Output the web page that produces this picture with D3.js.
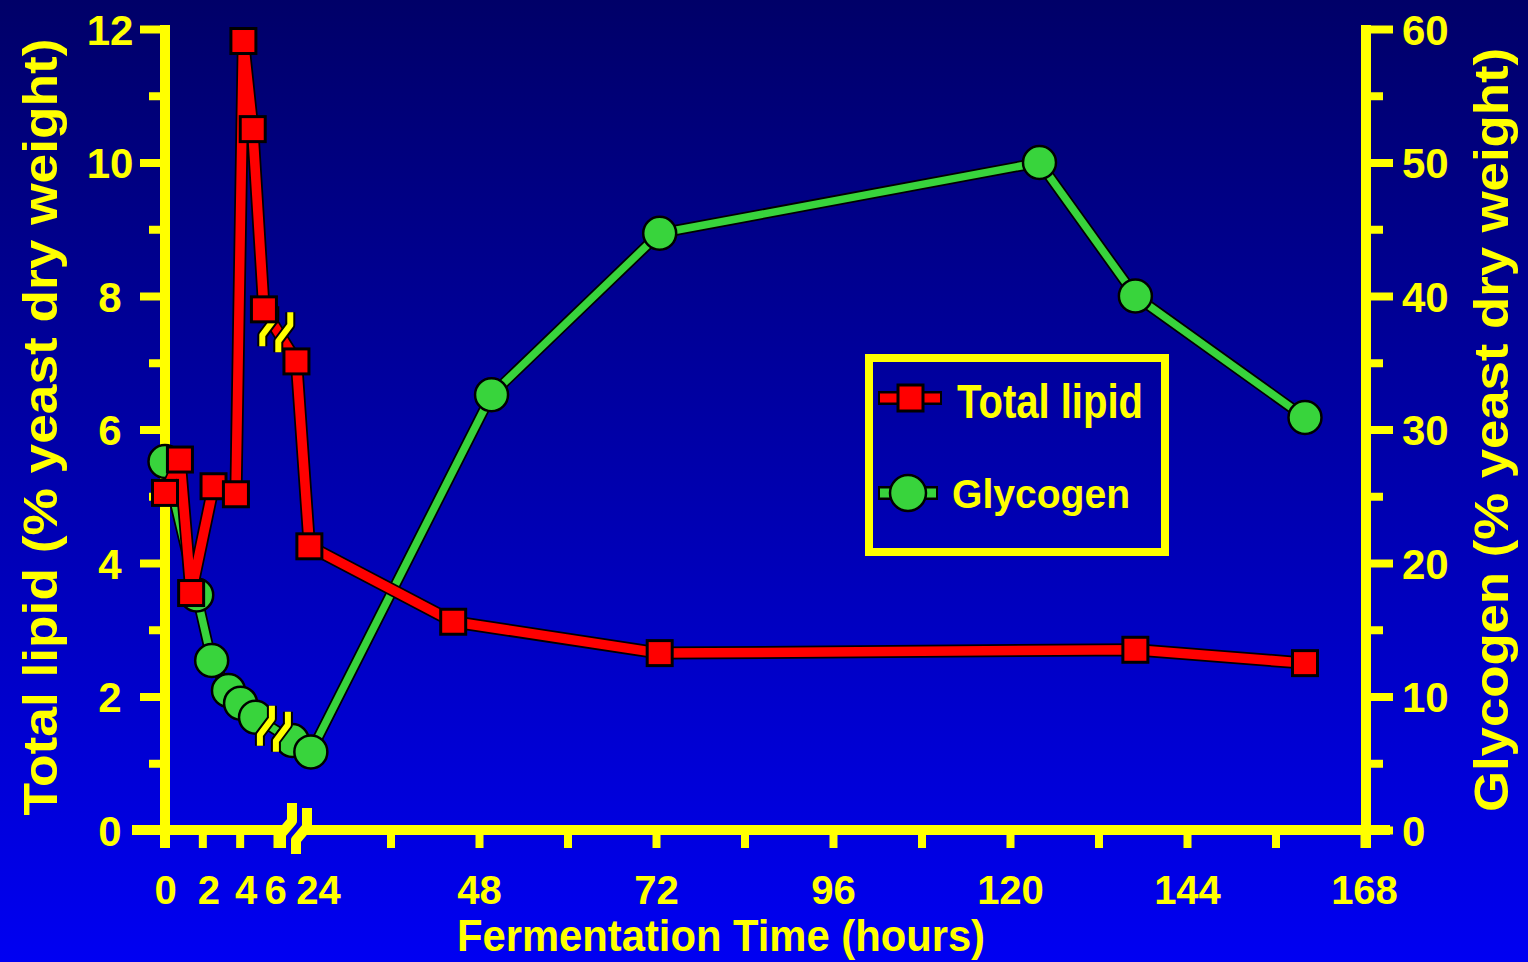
<!DOCTYPE html>
<html><head><meta charset="utf-8">
<script src="https://cdn.jsdelivr.net/npm/d3@7"></script>
<style>body{margin:0;background:#0000a0;} svg{display:block}</style>
</head><body><svg id="c" width="1528" height="962"></svg>
<script>
// ---- data ----
const lipidHours  = [0, 0.8, 1.4, 2.6, 3.8, 4.2, 4.7, 5.3, 20, 25, 44.5, 72.5, 137, 160];
const lipidValues = [5.05, 5.55, 3.55, 5.15, 5.03, 11.82, 10.5, 7.8, 7.02, 4.25, 3.12, 2.65, 2.7, 2.5];
const glycogenHours  = [0, 1.7, 2.5, 3.4, 4.05, 4.85, 17, 25.2, 49.7, 72.5, 124, 137, 160];
const glycogenValues = [27.6, 17.6, 12.7, 10.45, 9.5, 8.45, 6.7, 5.85, 32.6, 44.7, 50.0, 40.0, 30.9];
const xTickMarks  = [2, 4, 6, 36, 48, 60, 72, 84, 96, 108, 120, 132, 144, 156, 168];
const xTickLabels = [0, 2, 4, 6, 24, 48, 72, 96, 120, 144, 168];
const leftMajor  = [0, 2, 4, 6, 8, 10, 12];
const leftMinor  = [1, 3, 5, 7, 9, 11];
const rightMajor = [0, 10, 20, 30, 40, 50, 60];
const rightMinor = [5, 15, 25, 35, 45, 55];
const xTitle = "Fermentation Time (hours)";
const yLeftTitle = "Total lipid (% yeast dry weight)";
const yRightTitle = "Glycogen (% yeast dry weight)";
const seriesNames = ["Total lipid", "Glycogen"];

const YEL = "#ffff00", RED = "#ff0000", GRN = "#38d43c";
const FONT = "'Liberation Sans', Arial, sans-serif";

const svg = d3.select("#c");
const defs = svg.append("defs");
const grad = defs.append("linearGradient").attr("id","bg").attr("x1",0).attr("y1",0).attr("x2",0).attr("y2",1);
grad.append("stop").attr("offset","0%").attr("stop-color","#000068");
grad.append("stop").attr("offset","100%").attr("stop-color","#0000f2");
svg.append("rect").attr("width",1528).attr("height",962).attr("fill","url(#bg)");

// ---- scales ----
const x = d3.scaleLinear().domain([0, 6, 24, 168]).range([165, 277, 302, 1364]);
const yL = d3.scaleLinear().domain([0, 12]).range([830, 29]);
const yR = d3.scaleLinear().domain([0, 60]).range([830, 29]);

function styleAxis(g, w, fs) {
  g.select(".domain").remove();
  g.selectAll(".tick line").attr("stroke", YEL).attr("stroke-width", w);
  g.selectAll(".tick text").attr("fill", YEL).attr("font-family", FONT)
    .attr("font-weight", "bold").attr("font-size", fs || 42);
}

// left axis
const gL1 = svg.append("g").attr("transform","translate(165,0)")
  .call(d3.axisLeft(yL).tickValues(leftMajor).tickSize(25).tickFormat(d3.format("d")));
styleAxis(gL1, 8);
gL1.selectAll(".tick text").attr("x", -55).attr("text-anchor","middle").attr("dy","0.36em");
const gL2 = svg.append("g").attr("transform","translate(165,0)")
  .call(d3.axisLeft(yL).tickValues(leftMinor).tickSize(16).tickFormat(""));
styleAxis(gL2, 8);

// right axis
const gR1 = svg.append("g").attr("transform","translate(1366,0)")
  .call(d3.axisRight(yR).tickValues(rightMajor).tickSize(27).tickFormat(d3.format("d")));
styleAxis(gR1, 8);
gR1.selectAll(".tick text").attr("x", 36).attr("text-anchor","start").attr("dy","0.36em");
const gR2 = svg.append("g").attr("transform","translate(1366,0)")
  .call(d3.axisRight(yR).tickValues(rightMinor).tickSize(17).tickFormat(""));
styleAxis(gR2, 8);

// bottom axis ticks
const gB1 = svg.append("g").attr("transform","translate(0,830)")
  .call(d3.axisBottom(x).tickValues(xTickMarks).tickSize(18).tickFormat(""));
styleAxis(gB1, 8);
const labelShift = {2: 6, 4: 6, 6: -2, 24: 16};
const gB2 = svg.append("g").attr("transform","translate(0,830)")
  .call(d3.axisBottom(x).tickValues(xTickLabels).tickSize(0).tickFormat(d3.format("d")));
styleAxis(gB2, 0, 40);
gB2.selectAll(".tick text").attr("y", 74).attr("dy", "0")
  .attr("dx", d => labelShift[d] || 0);

// axis lines
const axisG = svg.append("g").attr("stroke", YEL).attr("fill","none");
axisG.append("line").attr("x1",165).attr("x2",165).attr("y1",25).attr("y2",848).attr("stroke-width",10);
axisG.append("line").attr("x1",1366).attr("x2",1366).attr("y1",25).attr("y2",848).attr("stroke-width",10);
axisG.append("line").attr("x1",132).attr("x2",284).attr("y1",830).attr("y2",830).attr("stroke-width",10);
axisG.append("line").attr("x1",304).attr("x2",1390).attr("y1",830).attr("y2",830).attr("stroke-width",10);
// axis break
axisG.append("path").attr("d","M281,848 L281,834 L292,821 L292,803").attr("stroke-width",10).attr("stroke-linejoin","round");
axisG.append("path").attr("d","M296,854 L296,840 L307,827 L307,808").attr("stroke-width",10).attr("stroke-linejoin","round");

// ---- series ----
const lipid = lipidHours.map((h,i) => ({h, v: lipidValues[i]}));
const glyc = glycogenHours.map((h,i) => ({h, v: glycogenValues[i]}));
const lineL = d3.line().x(d => x(d.h)).y(d => yL(d.v));
const lineG = d3.line().x(d => x(d.h)).y(d => yR(d.v));

function breakMarks(p0, p1, t) {
  const cx = p0[0] + (p1[0]-p0[0])*t, cy = p0[1] + (p1[1]-p0[1])*t;
  const g = svg.append("g").attr("fill","none").attr("stroke-linejoin","round");
  [[-8,-3],[8,3]].forEach(([dx,dy]) => {
    const d = `M${cx+dx-6},${cy+dy+20} L${cx+dx-6},${cy+dy+9} L${cx+dx+6},${cy+dy-7} L${cx+dx+6},${cy+dy-20}`;
    g.append("path").attr("d", d).attr("stroke","#000").attr("stroke-width",10);
    g.append("path").attr("d", d).attr("stroke",YEL).attr("stroke-width",6);
  });
}

// glycogen line + markers
svg.append("path").datum(glyc).attr("d", lineG).attr("fill","none").attr("stroke","#000").attr("stroke-width",11).attr("stroke-linejoin","round");
svg.append("path").datum(glyc).attr("d", lineG).attr("fill","none").attr("stroke",GRN).attr("stroke-width",7.5).attr("stroke-linejoin","round");
svg.append("g").selectAll("circle").data(glyc).join("circle")
  .attr("cx", d => x(d.h)).attr("cy", d => yR(d.v)).attr("r", 16.5)
  .attr("fill", GRN).attr("stroke","#000").attr("stroke-width",2.5);
breakMarks([x(glyc[5].h), yR(glyc[5].v)], [x(glyc[6].h), yR(glyc[6].v)], 0.5);

// lipid line + markers
svg.append("path").datum(lipid).attr("d", lineL).attr("fill","none").attr("stroke","#000").attr("stroke-width",13).attr("stroke-linejoin","round");
svg.append("path").datum(lipid).attr("d", lineL).attr("fill","none").attr("stroke",RED).attr("stroke-width",9.5).attr("stroke-linejoin","round");
breakMarks([x(lipid[7].h), yL(lipid[7].v)], [x(lipid[8].h), yL(lipid[8].v)], 0.38);
svg.append("g").selectAll("rect").data(lipid).join("rect")
  .attr("x", d => x(d.h) - 12.5).attr("y", d => yL(d.v) - 12.5).attr("width", 25).attr("height", 25)
  .attr("fill", RED).attr("stroke","#000").attr("stroke-width",3);

// ---- titles ----
const T = (s) => svg.append("text").text(s).attr("fill", YEL).attr("font-family", FONT).attr("font-weight","bold");
T(xTitle).attr("x", 721).attr("y", 951).attr("text-anchor","middle").attr("font-size", 44)
  .attr("textLength", 528).attr("lengthAdjust","spacingAndGlyphs");
T(yLeftTitle).attr("transform","translate(57,427) rotate(-90)").attr("text-anchor","middle").attr("font-size", 48)
  .attr("textLength", 777).attr("lengthAdjust","spacingAndGlyphs");
T(yRightTitle).attr("transform","translate(1508,430) rotate(-90)").attr("text-anchor","middle").attr("font-size", 48)
  .attr("textLength", 764).attr("lengthAdjust","spacingAndGlyphs");

// ---- legend ----
const lg = svg.append("g");
lg.append("rect").attr("x",869).attr("y",358).attr("width",296).attr("height",194)
  .attr("fill","none").attr("stroke",YEL).attr("stroke-width",8);
// lipid symbol
lg.append("line").attr("x1",878).attr("x2",942).attr("y1",398).attr("y2",398).attr("stroke","#000").attr("stroke-width",14);
lg.append("line").attr("x1",880).attr("x2",940).attr("y1",398).attr("y2",398).attr("stroke",RED).attr("stroke-width",9);
lg.append("rect").attr("x",898).attr("y",385).attr("width",25).attr("height",26).attr("fill",RED).attr("stroke","#000").attr("stroke-width",3);
// glycogen symbol
lg.append("line").attr("x1",878).attr("x2",938).attr("y1",493).attr("y2",493).attr("stroke","#000").attr("stroke-width",14);
lg.append("line").attr("x1",880).attr("x2",936).attr("y1",493).attr("y2",493).attr("stroke",GRN).attr("stroke-width",9);
lg.append("circle").attr("cx",908).attr("cy",493).attr("r",18).attr("fill",GRN).attr("stroke","#000").attr("stroke-width",2.5);
T(seriesNames[0]).attr("x",957).attr("y",418).attr("font-size",48).attr("textLength",186).attr("lengthAdjust","spacingAndGlyphs");
T(seriesNames[1]).attr("x",952).attr("y",508).attr("font-size",40).attr("textLength",178).attr("lengthAdjust","spacingAndGlyphs");
</script></body></html>
